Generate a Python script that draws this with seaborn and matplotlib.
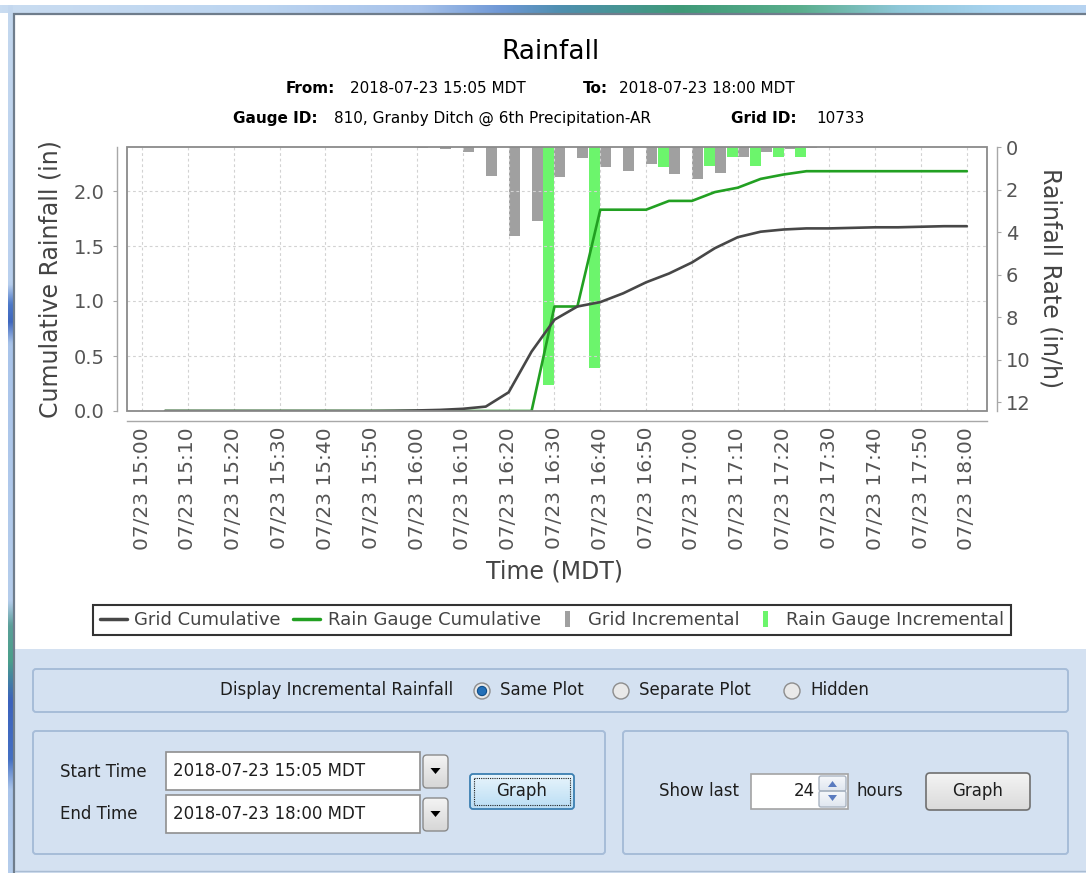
import matplotlib
matplotlib.use("Agg")
import matplotlib.pyplot as plt
import matplotlib.dates as mdates
from matplotlib.patches import Rectangle, FancyBboxPatch, Circle, Polygon
from matplotlib.lines import Line2D
from matplotlib.colors import to_rgb
import numpy as np
import pandas as pd
import seaborn as sns

# ---------------- DATA ----------------
times = pd.date_range("2018-07-23 15:05", "2018-07-23 18:00", freq="5min")
tick_times = pd.date_range("2018-07-23 15:00", "2018-07-23 18:00", freq="10min")

grid_cumulative = [0.0, 0.0, 0.0, 0.0, 0.0, 0.0, 0.0, 0.0, 0.0, 0.0,
                   0.002, 0.005, 0.01, 0.02, 0.04, 0.17, 0.54, 0.83, 0.95, 0.99,
                   1.07, 1.17, 1.25, 1.35, 1.48, 1.58, 1.63, 1.65, 1.66, 1.66,
                   1.665, 1.67, 1.67, 1.675, 1.68, 1.68]
gauge_cumulative = [0.0, 0.0, 0.0, 0.0, 0.0, 0.0, 0.0, 0.0, 0.0, 0.0,
                    0.0, 0.0, 0.0, 0.0, 0.0, 0.0, 0.0, 0.95, 0.95, 1.83,
                    1.83, 1.83, 1.91, 1.91, 1.99, 2.03, 2.11, 2.15, 2.18, 2.18,
                    2.18, 2.18, 2.18, 2.18, 2.18, 2.18]
grid_rate = [0.0, 0.0, 0.0, 0.0, 0.0, 0.0, 0.0, 0.0, 0.0, 0.0,
             0.02, 0.05, 0.1, 0.22, 1.36, 4.2, 3.5, 1.4, 0.52, 0.93,
             1.13, 0.8, 1.27, 1.5, 1.24, 0.47, 0.22, 0.1, 0.05, 0.03,
             0.02, 0.02, 0.02, 0.01, 0.01, 0.0]
gauge_rate = [0.0, 0.0, 0.0, 0.0, 0.0, 0.0, 0.0, 0.0, 0.0, 0.0,
              0.0, 0.0, 0.0, 0.0, 0.0, 0.0, 0.0, 11.2, 0.0, 10.4,
              0.0, 0.0, 0.93, 0.0, 0.9, 0.45, 0.9, 0.45, 0.45, 0.0,
              0.0, 0.0, 0.0, 0.0, 0.0, 0.0]

left_ticks = [0.0, 0.5, 1.0, 1.5, 2.0]
right_ticks = [0, 2, 4, 6, 8, 10, 12]

series_labels = ["Grid Cumulative", "Rain Gauge Cumulative", "Grid Incremental", "Rain Gauge Incremental"]

# ---------------- STYLE ----------------
sns.set_style("white")
plt.rcParams['font.family'] = ['DejaVu Sans']

GRID_LINE = '#474747'
GAUGE_LINE = '#22a022'
GRID_BAR = '#a0a0a0'
GAUGE_BAR = '#6cf56c'
PANEL = '#d4e1f1'
BOX_EDGE = '#a6bcd8'
UI_TEXT = '#1e1e1e'

W, H = 1086, 873
fig = plt.figure(figsize=(W / 100, H / 100), dpi=100, facecolor='white')

bg = fig.add_axes([0, 0, 1, 1], zorder=0)
bg.axis('off')


def px_rect(x0, y0, x1, y1):
    return [x0 / W, 1 - y1 / H, (x1 - x0) / W, (y1 - y0) / H]


def gradient(extent, stops, vertical=True, z=1, clip=None):
    pos = np.array([s[0] for s in stops], dtype=float)
    cols = np.array([to_rgb(s[1]) for s in stops])
    t = np.linspace(pos[0], pos[-1], 256)
    arr = np.stack([np.interp(t, pos, cols[:, i]) for i in range(3)], axis=-1)
    arr = arr[:, None, :] if vertical else arr[None, :, :]
    im = bg.imshow(arr, extent=extent, aspect='auto', zorder=z, interpolation='bilinear')
    if clip is not None:
        im.set_clip_path(clip)
    return im


def button(x0, y0, x1, y1, top, bottom, edge, r=3, z=3, lw=1.0):
    box = FancyBboxPatch((x0, y0), x1 - x0, y1 - y0,
                         boxstyle=f"round,pad=0,rounding_size={r}",
                         fc='none', ec=edge, lw=lw, zorder=z + 0.5)
    bg.add_patch(box)
    gradient((x0, x1, y1, y0), [(0, top), (1, bottom)], z=z, clip=box)
    return box


# ---------------- WINDOW CHROME ----------------
gradient((0, W, 13, 5), [(0, '#c9dcf1'), (250, '#bcd5f0'), (420, '#a7c2ea'),
                         (500, '#6f98d6'), (560, '#4f8fb0'), (680, '#3f9a78'),
                         (800, '#5aae8c'), (900, '#8ec7d8'), (1000, '#a9d3f0'),
                         (1086, '#b7d3f1')], vertical=False, z=1)
gradient((8, 13, H, 5), [(0, '#c4d8ef'), (280, '#b9d0ee'), (300, '#4d79c9'),
                         (318, '#3d66bf'), (340, '#a9c4ea'), (600, '#b5cdec'),
                         (625, '#5b9f99'), (660, '#4aa08a'), (700, '#3b62bd'),
                         (760, '#4470c4'), (790, '#a9c4ea'), (873, '#b5cdec')], z=1)
bg.plot([13.5, 13.5], [13, H], color='#6f7d8c', lw=1.6, zorder=2, solid_capstyle='butt')
bg.plot([13, W], [13.5, 13.5], color='#6f7d8c', lw=1.6, zorder=2, solid_capstyle='butt')

# bottom control panel
bg.add_patch(Rectangle((15, 649), W - 15, H - 649, fc=PANEL, ec='none', zorder=1))
bg.plot([15, W], [871, 871], color='#a9bcd3', lw=1, zorder=2)
for (x0, y0, x1, y1) in [(33, 669, 1068, 712), (33, 731, 605, 854), (623, 731, 1068, 854)]:
    bg.add_patch(FancyBboxPatch((x0, y0), x1 - x0, y1 - y0, boxstyle="round,pad=0,rounding_size=3",
                                fc='none', ec=BOX_EDGE, lw=1.4, zorder=2))

# radio buttons row
ui_font = dict(fontsize=12, color=UI_TEXT, va='center', ha='left')
bg.text(220, 690, "Display Incremental Rainfall", **ui_font)
for cx, label, sel in [(482, "Same Plot", True), (621, "Separate Plot", False), (792, "Hidden", False)]:
    bg.add_patch(Circle((cx, 691), 8, fc='#e9e9e9', ec='#8c8c8c', lw=1, zorder=3))
    if sel:
        bg.add_patch(Circle((cx, 691), 4.6, fc='#2470b8', ec='#0f4e8a', lw=0.8, zorder=4))
    bg.text(cx + 18, 690, label, **ui_font)

# start / end time
bg.text(60, 772, "Start Time", **ui_font)
bg.text(60, 814, "End Time", **ui_font)
for y0, y1, txt in [(752, 790, "2018-07-23 15:05 MDT"), (795, 833, "2018-07-23 18:00 MDT")]:
    bg.add_patch(Rectangle((166, y0), 254, y1 - y0, fc='white', ec='#8f8f8f', lw=1.2, zorder=3))
    bg.text(173, (y0 + y1) / 2, txt, **ui_font, zorder=4)
    button(423, y0 + 3, 448, y1 - 2, '#f4f4f4', '#d6d6d6', '#8a8a8a', r=4)
    cy = (y0 + y1) / 2
    bg.add_patch(Polygon([(430.5, cy - 3), (440.5, cy - 3), (435.5, cy + 3)], closed=True,
                         fc='black', ec='none', zorder=5))

button(470, 774, 574, 809, '#e9f5fc', '#b9ddf4', '#3c7fb1', r=3, lw=1.3)
bg.add_patch(Rectangle((474, 778), 96, 27, fill=False, ec='#202020', lw=0.8, ls=(0, (1, 1)), zorder=5))
bg.text(522, 791, "Graph", fontsize=12, color=UI_TEXT, ha='center', va='center', zorder=6)

# show last N hours
bg.text(659, 791, "Show last", **ui_font)
bg.add_patch(Rectangle((751, 774), 97, 35, fc='white', ec='#a3a3a3', lw=1.2, zorder=3))
bg.text(815, 791, "24", fontsize=12, color=UI_TEXT, ha='right', va='center', zorder=4)
button(819, 776, 846, 791, '#f6f8fb', '#dfe6ef', '#a9b4c2', r=2)
button(819, 791, 846, 807, '#f6f8fb', '#dfe6ef', '#a9b4c2', r=2)
bg.add_patch(Polygon([(828, 787), (837, 787), (832.5, 781)], closed=True, fc='#5a7bbf', ec='none', zorder=5))
bg.add_patch(Polygon([(828, 795), (837, 795), (832.5, 801)], closed=True, fc='#5a7bbf', ec='none', zorder=5))
bg.text(857, 791, "hours", **ui_font)
button(926, 773, 1030, 810, '#f4f4f4', '#dadada', '#707070', r=4, lw=1.2)
bg.text(978, 791, "Graph", fontsize=12, color=UI_TEXT, ha='center', va='center', zorder=6)

# ---------------- CHART ----------------
bg.text(551, 59, "Rainfall", fontsize=19, color='black', ha='center', va='baseline')
sub = dict(fontsize=11, color='black', va='baseline', ha='left')
bg.text(286, 93, "From:", fontweight='bold', **sub)
bg.text(350, 93, "2018-07-23 15:05 MDT", **sub)
bg.text(583, 93, "To:", fontweight='bold', **sub)
bg.text(619, 93, "2018-07-23 18:00 MDT", **sub)
bg.text(233, 123, "Gauge ID:", fontweight='bold', **sub)
bg.text(334, 123, "810, Granby Ditch @ 6th Precipitation-AR", **sub)
bg.text(731, 123, "Grid ID:", fontweight='bold', **sub)
bg.text(816, 123, "10733", **sub)

ax = fig.add_axes(px_rect(127, 147, 987, 411), zorder=2)
ax2 = ax.twinx()
ax2.set_zorder(1)
ax.patch.set_visible(False)
ax2.patch.set_facecolor('white')

xnum = mdates.date2num(times)
bar_w = 2.4 / 1440.0

# incremental bars hang from the top of the inverted right axis
ax2.bar(xnum, grid_rate, width=bar_w, align='edge', color=GRID_BAR, linewidth=0)
ax2.bar(xnum, gauge_rate, width=-bar_w, align='edge', color=GAUGE_BAR, linewidth=0)

sns.lineplot(x=xnum, y=gauge_cumulative, ax=ax, color=GAUGE_LINE, linewidth=1.9)
sns.lineplot(x=xnum, y=grid_cumulative, ax=ax, color=GRID_LINE, linewidth=1.9)

x_start = mdates.date2num(pd.Timestamp("2018-07-23 15:00") - pd.Timedelta(minutes=3.3))
x_end = mdates.date2num(pd.Timestamp("2018-07-23 18:00") + pd.Timedelta(minutes=4.4))
ax.set_xlim(x_start, x_end)
ax.set_ylim(0, 2.40)
ax2.set_ylim(12.42, 0)

ax.set_xticks(mdates.date2num(tick_times))
ax.xaxis.set_major_formatter(mdates.DateFormatter('%m/%d %H:%M'))
ax.set_yticks(left_ticks)
ax.yaxis.set_major_formatter(matplotlib.ticker.FormatStrFormatter('%.1f'))
ax2.set_yticks(right_ticks)

ax.grid(True, color='#d2d2d2', ls=(0, (2.5, 2.5)), lw=0.8)
ax2.grid(False)
ax.set_xlabel("")
ax.set_ylabel("")

for s in ['top', 'right']:
    ax.spines[s].set_visible(False)
for s in ['top', 'left', 'bottom']:
    ax2.spines[s].set_visible(False)
for sp in [ax.spines['left'], ax.spines['bottom'], ax2.spines['right']]:
    sp.set_position(('outward', 7))
    sp.set_color('#a8a8a8')
    sp.set_linewidth(1.0)
ax.add_patch(Rectangle((0, 0), 1, 1, transform=ax.transAxes, fill=False,
                       ec='#8a8a8a', lw=1.3, clip_on=False, zorder=6))

ax.tick_params(axis='x', direction='out', length=3, width=0.8, color='#a8a8a8',
               labelcolor='#555555', labelsize=14.5, labelrotation=90, pad=1.5)
ax.tick_params(axis='y', direction='out', length=3, width=0.8, color='#a8a8a8',
               labelcolor='#555555', labelsize=14, pad=6)
ax2.tick_params(axis='y', direction='out', length=3, width=0.8, color='#a8a8a8',
                labelcolor='#555555', labelsize=14, pad=3.5)

bg.text(51, 279, "Cumulative Rainfall (in)", fontsize=17, color='#444444',
        rotation=90, ha='center', va='center')
bg.text(1050, 278, "Rainfall Rate (in/h)", fontsize=17, color='#444444',
        rotation=270, ha='center', va='center')
bg.text(555, 571, "Time (MDT)", fontsize=17, color='#444444', ha='center', va='center')

# legend
patch_marker = [(-0.3, -1), (0.3, -1), (0.3, 1), (-0.3, 1), (-0.3, -1)]
handles = [
    Line2D([], [], color=GRID_LINE, lw=2.5),
    Line2D([], [], color=GAUGE_LINE, lw=2.5),
    Line2D([], [], ls='none', marker=patch_marker, markersize=12, color=GRID_BAR, markeredgewidth=0),
    Line2D([], [], ls='none', marker=patch_marker, markersize=12, color=GAUGE_BAR, markeredgewidth=0),
]
leg = fig.legend(handles, series_labels, loc='center', ncol=4,
                 bbox_to_anchor=(552 / W, 1 - 620 / H), fontsize=13,
                 labelcolor='#444444', frameon=True, fancybox=False,
                 edgecolor='black', handlelength=1.5, handletextpad=0.4,
                 columnspacing=0.7, borderpad=0.35, borderaxespad=0)
leg.get_frame().set_linewidth(1.5)

bg.set_xlim(0, W)
bg.set_ylim(H, 0)

fig.savefig("out.png", dpi=100, facecolor='white')
